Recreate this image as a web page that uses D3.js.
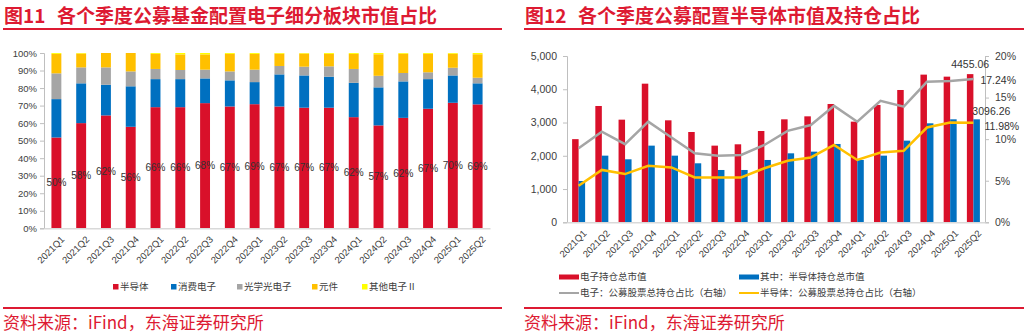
<!DOCTYPE html>
<html><head><meta charset="utf-8">
<script src="https://cdn.jsdelivr.net/npm/d3@7"></script>
<style>
body{margin:0;background:#fff;}
svg{display:block;font-family:"Liberation Sans","Noto Sans CJK SC",sans-serif;}
.cjk{font-family:"Noto Sans CJK SC","Liberation Sans",sans-serif;}
</style></head><body>
<svg id="c" width="1027" height="334"></svg>
<script>
// ---------- Data ----------
const quarters = ["2021Q1","2021Q2","2021Q3","2021Q4","2022Q1","2022Q2","2022Q3","2022Q4","2023Q1","2023Q2","2023Q3","2023Q4","2024Q1","2024Q2","2024Q3","2024Q4","2025Q1","2025Q2"];
// Figure 11: sector share of electronics holdings (%)
const semiShare      = [51.8,60.0,64.4,57.9,69.1,69.1,71.4,69.5,70.8,69.5,68.8,68.8,63.4,58.7,63.0,68.2,71.6,70.7];
const consumerShare  = [21.9,22.7,17.5,23.1,16.0,16.0,14.1,14.9,12.6,18.3,18.4,17.7,19.6,21.7,20.8,16.9,15.6,12.0];
const opticalShare   = [14.7,9.1,9.9,8.5,5.8,5.2,5.0,5.1,7.1,4.8,5.0,5.9,7.9,6.6,4.8,3.9,4.4,3.2];
const componentShare = [11.1,7.9,8.2,10.5,8.6,8.9,8.7,10.0,9.0,7.0,7.5,7.1,8.6,12.3,11.0,10.5,8.0,13.4];
const otherShare     = [0.5,0.3,0.0,0.0,0.5,0.8,0.8,0.5,0.5,0.4,0.3,0.5,0.5,0.7,0.4,0.5,0.4,0.7];
const semiLabels     = ["50%","58%","62%","56%","66%","66%","68%","67%","69%","67%","67%","67%","62%","57%","62%","67%","70%","69%"];
const seriesNames11  = ["半导体","消费电子","光学光电子","元件","其他电子Ⅱ"];
const yTicks11       = [0,10,20,30,40,50,60,70,80,90,100];
// Figure 12
const elecValue  = [2500,3497,3086,4168,3066,2715,2305,2345,2745,3096,3186,3557,3026,3527,3978,4440,4379,4455.06];
const semiValue  = [1242,2004,1894,2305,2004,1774,1573,1573,1874,2074,2124,2355,1874,2004,2455,2976,3096,3096.26];
const elecPct    = [8.9,10.9,9.4,12.1,10.2,8.3,8.0,8.1,9.3,11.0,11.7,14.0,12.1,14.6,13.9,16.9,17.0,17.24];
const semiPct    = [4.4,6.3,5.8,6.8,6.6,5.4,5.4,5.4,6.5,7.4,7.8,9.3,7.5,8.4,8.6,11.4,12.0,11.98];
const seriesNames12 = ["电子持仓总市值","其中：半导体持仓总市值","电子：公募股票总持仓占比（右轴）","半导体：公募股票总持仓占比（右轴）"];
const yTicks12L  = [0,1000,2000,3000,4000,5000];
const yTicks12R  = [0,5,10,15,20];

const RED="#D9102A", BLUE="#0070C0", GRAY="#A5A5A5", ORANGE="#FFC000", YELLOW="#FFFF00";
const TITLE_RED="#DD1A32", AXIS="#BFBFBF", TXT="#404040";
const colors11=[RED,BLUE,GRAY,ORANGE,YELLOW];

const svg=d3.select("#c");

// ---------- Titles / rules / sources ----------
function header(x0,x1,num,title,tx){
  svg.append("text").attr("class","cjk").attr("x",x0+1).attr("y",22.5)
    .attr("fill",TITLE_RED).attr("font-size",19).attr("font-weight","bold").text(num);
  svg.append("text").attr("class","cjk").attr("x",tx).attr("y",22.5)
    .attr("fill",TITLE_RED).attr("font-size",19).attr("font-weight","bold").text(title);
  svg.append("rect").attr("x",x0).attr("y",28).attr("width",x1-x0).attr("height",2).attr("fill",TITLE_RED);
  svg.append("rect").attr("x",x0).attr("y",307).attr("width",x1-x0).attr("height",2).attr("fill",TITLE_RED);
  svg.append("text").attr("class","cjk").attr("x",x0).attr("y",329)
    .attr("fill",TITLE_RED).attr("font-size",17).text("资料来源：iFind，东海证券研究所");
}
header(3,502,"图11","各个季度公募基金配置电子细分板块市值占比",57);
header(524,1024,"图12","各个季度公募配置半导体市值及持仓占比",578);

// ---------- Figure 11 ----------
{
  const x=d3.scaleBand().domain(quarters).range([44,490]).paddingInner(0.6).paddingOuter(0.3);
  const y=d3.scaleLinear().domain([0,100]).range([228.3,53]);
  const rows=quarters.map((q,i)=>({q,s0:semiShare[i],s1:consumerShare[i],s2:opticalShare[i],s3:componentShare[i],s4:otherShare[i]}));
  const keys=["s0","s1","s2","s3","s4"];
  const stack=d3.stack().keys(keys)(rows);
  const g=svg.append("g");
  stack.forEach((layer,k)=>{
    g.append("g").selectAll("rect").data(layer).join("rect")
      .attr("x",d=>x(d.data.q)).attr("width",x.bandwidth())
      .attr("y",d=>y(Math.min(d[1],100))).attr("height",d=>Math.max(0,y(d[0])-y(Math.min(d[1],100))))
      .attr("fill",colors11[k]);
  });
  // y axis
  const ya=g.append("g").attr("transform","translate(44,0)")
    .call(d3.axisLeft(y).tickValues(yTicks11).tickFormat(d=>d+"%").tickSize(4).tickPadding(3));
  ya.select(".domain").attr("stroke",AXIS);
  ya.selectAll(".tick line").attr("stroke",AXIS);
  ya.selectAll("text").attr("font-size",9.5).attr("fill",TXT).attr("font-family","Liberation Sans");
  // x axis
  const xa=g.append("g").attr("transform","translate(0,228.3)")
    .call(d3.axisBottom(x).tickSize(0).tickPadding(0));
  xa.select(".domain").attr("stroke","#D9D9D9").attr("stroke-width",1.5);
  xa.selectAll("text").attr("font-size",9.5).attr("fill",TXT).attr("text-anchor","end")
    .attr("transform","translate(4,7) rotate(-45)").attr("dy","0.7em").attr("y",0);
  // labels
  g.append("g").selectAll("text").data(rows).join("text")
    .attr("x",d=>x(d.q)+x.bandwidth()/2).attr("y",d=>y(d.s0/2)).attr("dy","0.35em")
    .attr("text-anchor","middle").attr("font-size",10).attr("fill","#333")
    .text((d,i)=>semiLabels[i]);
  // legend
  const lx=[113,171,237,312,362];
  const lg=g.append("g");
  seriesNames11.forEach((n,k)=>{
    lg.append("rect").attr("x",lx[k]).attr("y",284).attr("width",5.5).attr("height",5.5).attr("fill",colors11[k]);
    lg.append("text").attr("class","cjk").attr("x",lx[k]+7).attr("y",287).attr("dy","0.35em")
      .attr("font-size",9.5).attr("fill",TXT).text(n);
  });
}

// ---------- Figure 12 ----------
{
  const x=d3.scaleBand().domain(quarters).range([567,985]).paddingInner(0.44).paddingOuter(0.22);
  const yL=d3.scaleLinear().domain([0,5000]).range([222.3,56]);
  const yR=d3.scaleLinear().domain([0,20]).range([222.3,56]);
  const bw=x.bandwidth()/2;
  const g=svg.append("g");
  g.append("g").selectAll("rect").data(elecValue).join("rect")
    .attr("x",(d,i)=>x(quarters[i])).attr("width",bw).attr("y",d=>yL(d)).attr("height",d=>yL(0)-yL(d)).attr("fill",RED);
  g.append("g").selectAll("rect").data(semiValue).join("rect")
    .attr("x",(d,i)=>x(quarters[i])+bw).attr("width",bw).attr("y",d=>yL(d)).attr("height",d=>yL(0)-yL(d)).attr("fill",BLUE);
  const cx=q=>x(q)+x.bandwidth()/2;
  const line=d3.line().x((d,i)=>cx(quarters[i])).y(d=>yR(d));
  g.append("path").datum(elecPct).attr("d",line).attr("fill","none").attr("stroke",GRAY).attr("stroke-width",2.5);
  g.append("path").datum(semiPct).attr("d",line).attr("fill","none").attr("stroke",ORANGE).attr("stroke-width",2.5);
  // axes
  const ya=g.append("g").attr("transform","translate(567,0)")
    .call(d3.axisLeft(yL).tickValues(yTicks12L).tickFormat(d3.format(",")).tickSize(4).tickPadding(6));
  const yb=g.append("g").attr("transform","translate(985,0)")
    .call(d3.axisRight(yR).tickValues(yTicks12R).tickFormat(d=>d+"%").tickSize(4).tickPadding(6));
  [ya,yb].forEach(a=>{a.select(".domain").attr("stroke",AXIS);a.selectAll(".tick line").attr("stroke",AXIS);
    a.selectAll("text").attr("font-size",10.5).attr("fill",TXT);});
  const xa=g.append("g").attr("transform","translate(0,222.3)").call(d3.axisBottom(x).tickSize(0).tickPadding(0));
  xa.select(".domain").attr("stroke","#D9D9D9").attr("stroke-width",1.5);
  xa.selectAll("text").attr("font-size",9.5).attr("fill",TXT).attr("text-anchor","end")
    .attr("transform","translate(4,7) rotate(-45)").attr("dy","0.7em").attr("y",0);
  // end labels
  const last=quarters.length-1, lq=quarters[last];
  g.append("text").attr("x",x(lq)+bw/2).attr("y",yL(elecValue[last])-6).attr("text-anchor","middle")
    .attr("font-size",10.5).attr("fill","#333").text(d3.format(".2f")(elecValue[last]));
  g.append("text").attr("x",cx(lq)+7).attr("y",yR(elecPct[last])+1).attr("dy","0.35em")
    .attr("font-size",10.5).attr("fill","#333").text(d3.format(".2f")(elecPct[last])+"%");
  g.append("text").attr("x",x(lq)+bw*1.5+1).attr("y",yL(semiValue[last])-4).attr("text-anchor","start")
    .attr("transform",`translate(${-bw*0.5-2},0)`)
    .attr("font-size",10.5).attr("fill","#333").text(d3.format(".2f")(semiValue[last]));
  g.append("text").attr("x",cx(lq)+11).attr("y",yR(semiPct[last])+4).attr("dy","0.35em")
    .attr("font-size",10.5).attr("fill","#333").text(d3.format(".2f")(semiPct[last])+"%");
  // legend
  const leg=[{x:559,y:277,c:RED,t:"rect"},{x:739,y:277,c:BLUE,t:"rect"},{x:559,y:293,c:GRAY,t:"line"},{x:739,y:293,c:ORANGE,t:"line"}];
  leg.forEach((L,k)=>{
    if(L.t==="rect") g.append("rect").attr("x",L.x).attr("y",L.y-2.5).attr("width",20).attr("height",5).attr("fill",L.c);
    else g.append("line").attr("x1",L.x).attr("x2",L.x+20).attr("y1",L.y).attr("y2",L.y).attr("stroke",L.c).attr("stroke-width",2);
    g.append("text").attr("class","cjk").attr("x",L.x+21).attr("y",L.y).attr("dy","0.35em")
      .attr("font-size",9.5).attr("fill",TXT).text(seriesNames12[k]);
  });
}
</script>
</body></html>
